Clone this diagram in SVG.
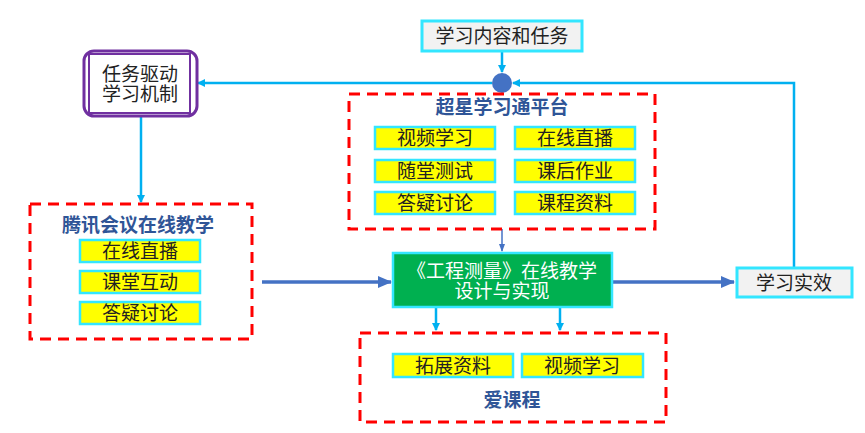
<svg xmlns="http://www.w3.org/2000/svg" width="865" height="433" viewBox="0 0 865 433">
<style>
text{font-family:"Liberation Sans","Noto Sans CJK SC",sans-serif;font-size:19px;text-anchor:middle;dominant-baseline:central;fill:#222}
.y{fill:#ffff00;stroke:#33e6ff;stroke-width:2.5}
.g{fill:#f2f2f2;stroke:#33e6ff;stroke-width:3}
.d{fill:none;stroke:#ff0000;stroke-width:3;stroke-dasharray:11 7}
.t{fill:#2f5597;font-weight:bold}
.c{fill:none;stroke:#00b0f0;stroke-width:2.5}
.b{fill:none;stroke:#4472c4;stroke-width:3.5}
</style>
<defs>
<marker id="ac" markerWidth="8" markerHeight="8" refX="7" refY="4" orient="auto" markerUnits="userSpaceOnUse" viewBox="0 0 8 8"><path d="M0,0 L8,4 L0,8 Z" fill="#00b0f0"/></marker>
<marker id="ab" markerWidth="14" markerHeight="12" refX="13" refY="6" orient="auto" markerUnits="userSpaceOnUse" viewBox="0 0 14 12"><path d="M0,0 L14,6 L0,12 Z" fill="#4472c4"/></marker>
<marker id="as" markerWidth="8" markerHeight="8" refX="7" refY="4" orient="auto" markerUnits="userSpaceOnUse" viewBox="0 0 8 8"><path d="M0,1 L8,4 L0,7 Z" fill="#4472c4"/></marker>
</defs>
<g id="connectors">
<path class="c" d="M794,267 L794,83 L513,83" marker-end="url(#ac)"/>
<path class="c" d="M492,83 L198,83" marker-end="url(#ac)"/>
<path class="c" d="M502,51 L502,72" marker-end="url(#ac)"/>
<path class="c" d="M141,116 L141,202" marker-end="url(#ac)"/>
<path d="M502,229 L502,251" fill="none" stroke="#4472c4" stroke-width="1.5" marker-end="url(#as)"/>
<path class="b" d="M262,282 L391,282" marker-end="url(#ab)"/>
<path class="b" d="M606,282 L734,282" marker-end="url(#ab)"/>
<path class="c" d="M436,308 L436,330" marker-end="url(#ac)"/>
<path class="c" d="M560,308 L560,330" marker-end="url(#ac)"/>
<circle cx="502" cy="83" r="10" fill="#4472c4"/>
</g>
<g id="task">
<rect x="84" y="51" width="113" height="65" rx="10" fill="#fff" stroke="#7030a0" stroke-width="3"/>
<rect x="89" y="54" width="101" height="59" fill="none" stroke="#7030a0" stroke-width="2"/>
<text x="140" y="74">任务驱动</text>
<text x="140" y="94">学习机制</text>
</g>
<g id="content">
<rect class="g" x="422" y="21" width="160" height="30"/>
<text x="502" y="36">学习内容和任务</text>
</g>
<g id="chaoxing">
<rect class="d" x="349" y="94" width="306" height="135"/>
<text class="t" x="502" y="107">超星学习通平台</text>
<rect class="y" x="375" y="127" width="120" height="22"/><text x="435" y="138">视频学习</text>
<rect class="y" x="515" y="127" width="120" height="22"/><text x="575" y="138">在线直播</text>
<rect class="y" x="375" y="160" width="120" height="22"/><text x="435" y="171">随堂测试</text>
<rect class="y" x="515" y="160" width="120" height="22"/><text x="575" y="171">课后作业</text>
<rect class="y" x="375" y="192" width="120" height="22"/><text x="435" y="203">答疑讨论</text>
<rect class="y" x="515" y="192" width="120" height="22"/><text x="575" y="203">课程资料</text>
</g>
<g id="tencent">
<rect class="d" x="30" y="204" width="222" height="135"/>
<text class="t" x="138" y="225">腾讯会议在线教学</text>
<rect class="y" x="80" y="240" width="120" height="22"/><text x="140" y="251">在线直播</text>
<rect class="y" x="80" y="271" width="120" height="22"/><text x="140" y="282">课堂互动</text>
<rect class="y" x="80" y="302" width="120" height="22"/><text x="140" y="313">答疑讨论</text>
</g>
<g id="main">
<rect x="393" y="253" width="219" height="54" fill="#00b050" stroke="#33e6ff" stroke-width="2.5"/>
<text x="502" y="271" style="fill:#fff">《工程测量》在线教学</text>
<text x="502" y="291" style="fill:#fff">设计与实现</text>
</g>
<g id="result">
<rect class="g" x="737" y="268" width="115" height="29"/>
<text x="794" y="283">学习实效</text>
</g>
<g id="icourse">
<rect class="d" x="360" y="333" width="306" height="89"/>
<rect class="y" x="393" y="354" width="120" height="23"/><text x="453" y="366">拓展资料</text>
<rect class="y" x="522" y="354" width="121" height="23"/><text x="582" y="366">视频学习</text>
<text class="t" x="512" y="400">爱课程</text>
</g>
</svg>
